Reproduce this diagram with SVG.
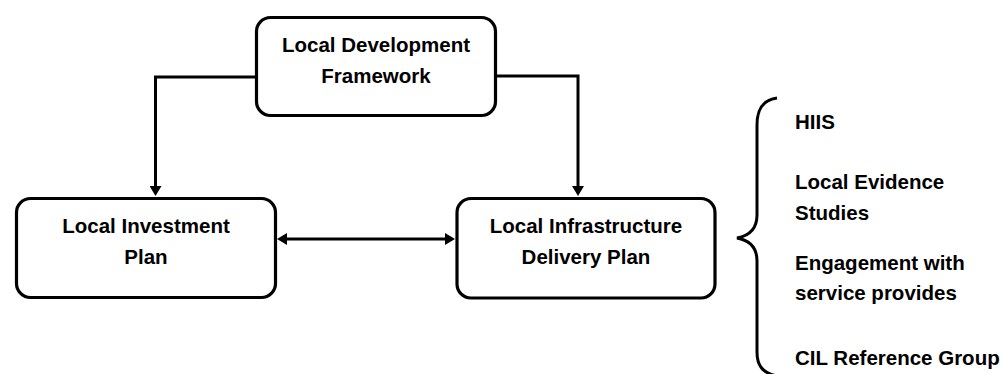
<svg xmlns="http://www.w3.org/2000/svg" width="1003" height="374" viewBox="0 0 1003 374">
<defs>
<style>
.box{fill:#fff;stroke:#000;stroke-width:3.2}
.lbl{font-family:"Liberation Sans",Arial,sans-serif;font-weight:bold;font-size:20.5px;fill:#000}
.mid{text-anchor:middle}
.con{fill:none;stroke:#000;stroke-width:3}
</style>
<marker id="ah" viewBox="0 0 10 12" refX="2" refY="6" markerWidth="10" markerHeight="12" markerUnits="userSpaceOnUse" orient="auto-start-reverse">
<path d="M0,0 L10,6 L0,12 z" fill="#000"/>
</marker>
</defs>
<rect width="1003" height="374" fill="#fff"/>
<g id="connectors">
<path class="con" d="M257,77 H155.5 V188" marker-end="url(#ah)"/>
<path class="con" d="M496,76 H578 V188" marker-end="url(#ah)"/>
<path class="con" d="M285,239 H447" marker-start="url(#ah)" marker-end="url(#ah)"/>
<path class="con" d="M777,98 C762,100 757,110 757,125 L757,215 C757,230 748,236 737,238 C748,240 757,246 757,261 L757,352 C757,365 762,373 777,376"/>
</g>
<g id="ldf">
<rect class="box" x="256.5" y="17.5" width="239" height="98" rx="14"/>
<text class="lbl mid" x="376" y="52">Local Development</text>
<text class="lbl mid" x="376" y="83">Framework</text>
</g>
<g id="lip">
<rect class="box" x="16.5" y="198.5" width="259" height="99" rx="14"/>
<text class="lbl mid" x="146" y="233">Local Investment</text>
<text class="lbl mid" x="146" y="264">Plan</text>
</g>
<g id="lidp">
<rect class="box" x="457" y="198.5" width="258" height="99.5" rx="14"/>
<text class="lbl mid" x="586" y="233">Local Infrastructure</text>
<text class="lbl mid" x="586" y="264">Delivery Plan</text>
</g>
<g id="list">
<text class="lbl" x="795" y="129">HIIS</text>
<text class="lbl" x="795" y="189">Local Evidence</text>
<text class="lbl" x="795" y="220">Studies</text>
<text class="lbl" x="795" y="270">Engagement with</text>
<text class="lbl" x="795" y="300">service provides</text>
<text class="lbl" x="795" y="365">CIL Reference Group</text>
</g>
</svg>
